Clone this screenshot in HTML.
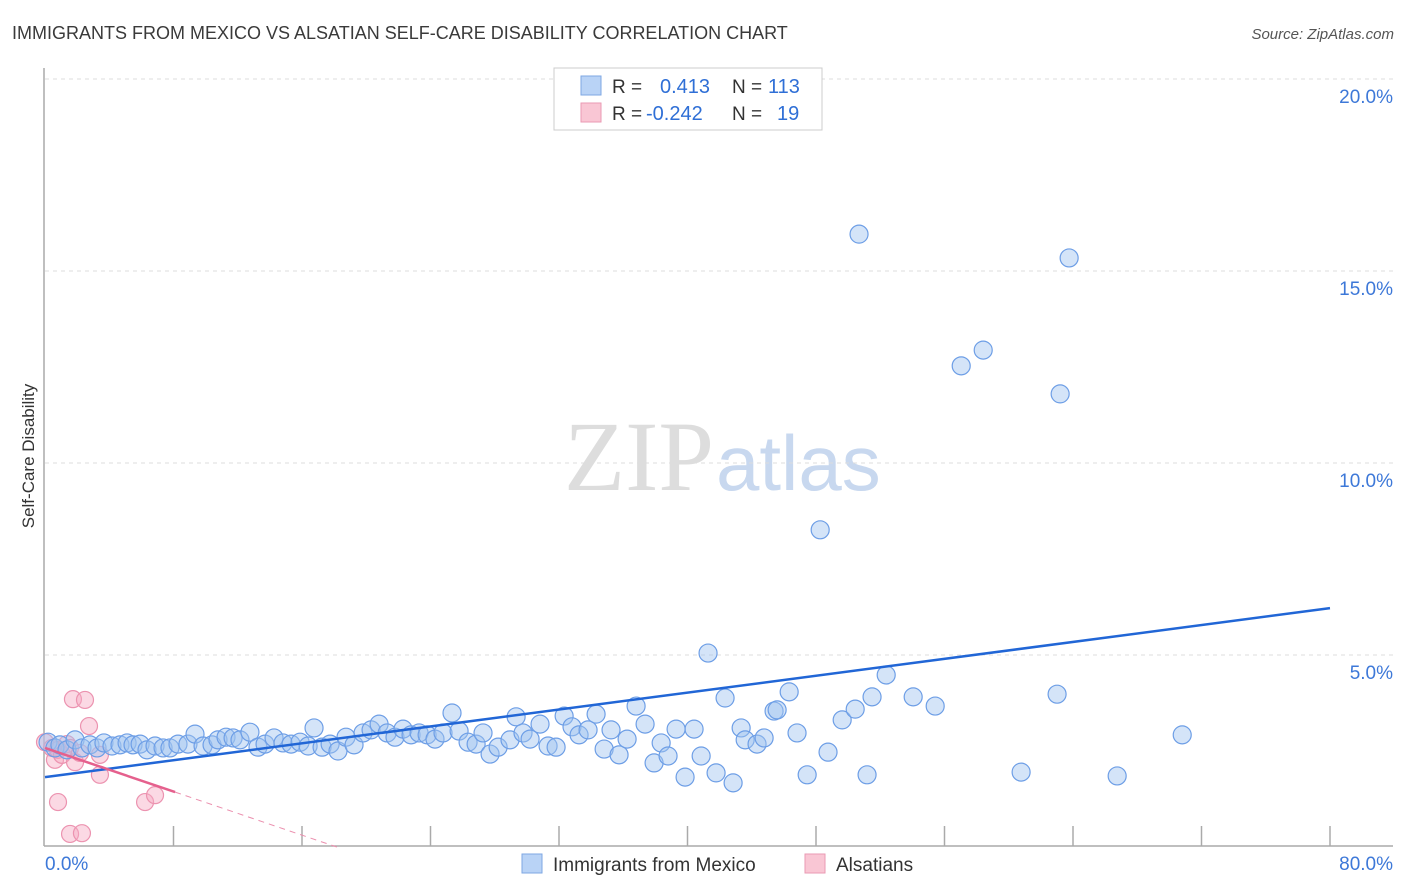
<!DOCTYPE html>
<html><head><meta charset="utf-8"><style>
body{margin:0;background:#fff;font-family:"Liberation Sans",sans-serif}
</style></head><body>
<svg id="chart" width="1406" height="892" style="display:block">
<text x="12" y="39" font-size="18" fill="#3a3a3a">IMMIGRANTS FROM MEXICO VS ALSATIAN SELF-CARE DISABILITY CORRELATION CHART</text>
<text x="1394" y="39" font-size="15" fill="#555" text-anchor="end" font-style="italic">Source: ZipAtlas.com</text>
<text x="714" y="490" font-size="100" fill="#ddd" text-anchor="end" font-family="Liberation Serif">ZIP</text>
<text x="716" y="490" font-size="78" fill="#c8d8ef">atlas</text>
<text x="34" y="456" font-size="17" fill="#333" text-anchor="middle" transform="rotate(-90 34 456)">Self-Care Disability</text>
<g id="grid"></g><g id="marks"></g>
<g>
<rect x="554" y="68" width="268" height="62" fill="#fff" stroke="#ccc"/>
<rect x="581" y="76" width="20" height="19" fill="#b9d3f6" stroke="#7ea7e3"/>
<rect x="581" y="103" width="20" height="19" fill="#f9c6d4" stroke="#ea9ab3"/>
<text x="612" y="93" font-size="19" fill="#333">R =</text><text x="660" y="93" font-size="20" fill="#2f6fd6">0.413</text>
<text x="732" y="93" font-size="19" fill="#333">N =</text><text x="768" y="93" font-size="20" fill="#2f6fd6">113</text>
<text x="612" y="120" font-size="19" fill="#333">R =</text><text x="646" y="120" font-size="20" fill="#2f6fd6">-0.242</text>
<text x="732" y="120" font-size="19" fill="#333">N =</text><text x="777" y="120" font-size="20" fill="#2f6fd6">19</text>
</g>
<g>
<rect x="522" y="854" width="20" height="19" fill="#b9d3f6" stroke="#7ea7e3"/>
<text x="553" y="871" font-size="19" fill="#333">Immigrants from Mexico</text>
<rect x="805" y="854" width="20" height="19" fill="#f9c6d4" stroke="#ea9ab3"/>
<text x="836" y="871" font-size="19" fill="#333">Alsatians</text>
</g>
</svg>
<script>
const yTicks=[5,10,15,20];
const yTickLabels=["5.0%","10.0%","15.0%","20.0%"];
const xTickVals=[0,8,16,24,32,40,48,56,64,72,80];
const blueX=[0.19,0.62,0.93,1.37,1.87,2.30,2.80,3.24,3.67,4.17,4.67,5.11,5.48,5.92,6.35,6.85,7.35,7.78,8.28,8.90,9.34,9.84,10.40,10.77,11.27,11.71,12.14,12.76,13.26,13.70,14.26,14.82,15.32,15.88,16.38,16.75,17.25,17.75,18.24,18.74,19.24,19.80,20.30,20.80,21.30,21.79,22.29,22.79,23.29,23.79,24.28,24.78,25.34,25.78,26.34,26.84,27.27,27.71,28.21,28.95,29.33,29.76,30.20,30.82,31.32,31.82,32.32,32.81,33.25,33.81,34.31,34.81,35.24,35.74,36.24,36.80,37.36,37.92,38.36,38.79,39.29,39.85,40.41,40.85,41.28,41.78,42.34,42.84,43.34,43.59,44.33,44.77,45.39,45.58,46.33,46.82,47.45,48.26,48.75,49.63,50.44,50.68,51.18,51.49,52.37,54.05,55.42,57.04,58.41,60.77,63.01,63.20,63.76,66.75,70.80];
const blueY=[2.73,2.58,2.66,2.53,2.79,2.58,2.66,2.58,2.71,2.63,2.66,2.71,2.66,2.68,2.53,2.63,2.58,2.58,2.68,2.68,2.94,2.63,2.66,2.79,2.86,2.84,2.79,2.99,2.60,2.68,2.84,2.71,2.68,2.73,2.63,3.10,2.60,2.68,2.50,2.86,2.66,2.97,3.05,3.20,2.97,2.86,3.07,2.92,2.97,2.92,2.81,2.97,3.49,3.02,2.73,2.68,2.97,2.42,2.60,2.79,3.39,2.97,2.81,3.20,2.63,2.60,3.41,3.13,2.92,3.05,3.46,2.55,3.05,2.40,2.81,3.67,3.20,2.19,2.71,2.37,3.07,1.82,3.07,2.37,5.05,1.93,3.88,1.67,3.10,2.79,2.68,2.84,3.54,3.57,4.04,2.97,1.88,8.26,2.47,3.31,3.59,15.96,1.88,3.91,4.48,3.91,3.67,12.53,12.94,1.95,3.98,11.80,15.34,1.85,2.92];
const pinkX=[0,0.44,0.62,0.81,1.06,1.37,1.56,1.74,1.87,2.18,2.49,2.74,3.42,3.42,0.81,1.56,2.30,6.23,6.85];
const pinkY=[2.73,2.58,2.27,2.53,2.40,2.68,2.58,3.85,2.21,2.45,3.83,3.15,2.40,1.88,1.17,0.34,0.36,1.17,1.35];
const blueTrend=[1.82,6.22];
const pinkTrend=[2.58,-0.142];
const NS="http://www.w3.org/2000/svg";
const X=v=>45+v/80*1285, Y=v=>847-v*38.4;
function mk(t,a,p){const e=document.createElementNS(NS,t);for(const k in a)e.setAttribute(k,a[k]);p.appendChild(e);return e;}
const grid=document.getElementById('grid'),marks=document.getElementById('marks');
yTicks.forEach((v,i)=>{
 const l=mk('line',{x1:45,x2:1393,y1:Y(v),y2:Y(v),stroke:'#ddd','stroke-dasharray':'4 4'},grid);
 
 
 const t=mk('text',{x:1393,y:Y(v)+24,'font-size':19,fill:'#3d78d8','text-anchor':'end'},grid);t.textContent=yTickLabels[i];
 
 
});
const topLine=mk('line',{x1:45,x2:1393,y1:79,y2:79,stroke:'#ddd','stroke-dasharray':'4 4'},grid);


const ax=mk('line',{x1:44,x2:44,y1:68,y2:846,stroke:'#aaa','stroke-width':1.5},grid);


const bx=mk('line',{x1:44,x2:1393,y1:846,y2:846,stroke:'#aaa','stroke-width':1.5},grid);


xTickVals.forEach(v=>{if(v===0)return;
 const l=mk('line',{x1:X(v),x2:X(v),y1:826,y2:846,stroke:'#aaa','stroke-width':1.5},grid);
 
 
});
const xl0=mk('text',{x:45,y:870,'font-size':19,fill:'#3d78d8'},grid);xl0.textContent='0.0%';


const xl1=mk('text',{x:1393,y:870,'font-size':19,fill:'#3d78d8','text-anchor':'end'},grid);xl1.textContent='80.0%';


pinkX.forEach((x,i)=>{const c=mk('circle',{cx:X(x),cy:Y(pinkY[i]),r:8.5,fill:'rgba(246,170,195,0.45)',stroke:'#ec93b0','stroke-width':1.2},marks);
 
 });
blueX.forEach((x,i)=>{const c=mk('circle',{cx:X(x),cy:Y(blueY[i]),r:9,fill:'rgba(160,195,240,0.45)',stroke:'#6d9ee6','stroke-width':1.2},marks);
 
 });
const bt=mk('line',{x1:X(0),y1:Y(blueTrend[0]),x2:X(80),y2:Y(blueTrend[1]),stroke:'#2166d6','stroke-width':2.5},marks);


const pe=8.1, pz=-pinkTrend[0]/pinkTrend[1];
const pt=mk('line',{x1:X(0),y1:Y(pinkTrend[0]),x2:X(pe),y2:Y(pinkTrend[0]+pinkTrend[1]*pe),stroke:'#e5608d','stroke-width':2.5},marks);


const pd=mk('line',{x1:X(pe),y1:Y(pinkTrend[0]+pinkTrend[1]*pe),x2:X(pz),y2:Y(0),stroke:'#eb8fae','stroke-width':1,'stroke-dasharray':'6 5'},marks);


</script>
</body></html>
